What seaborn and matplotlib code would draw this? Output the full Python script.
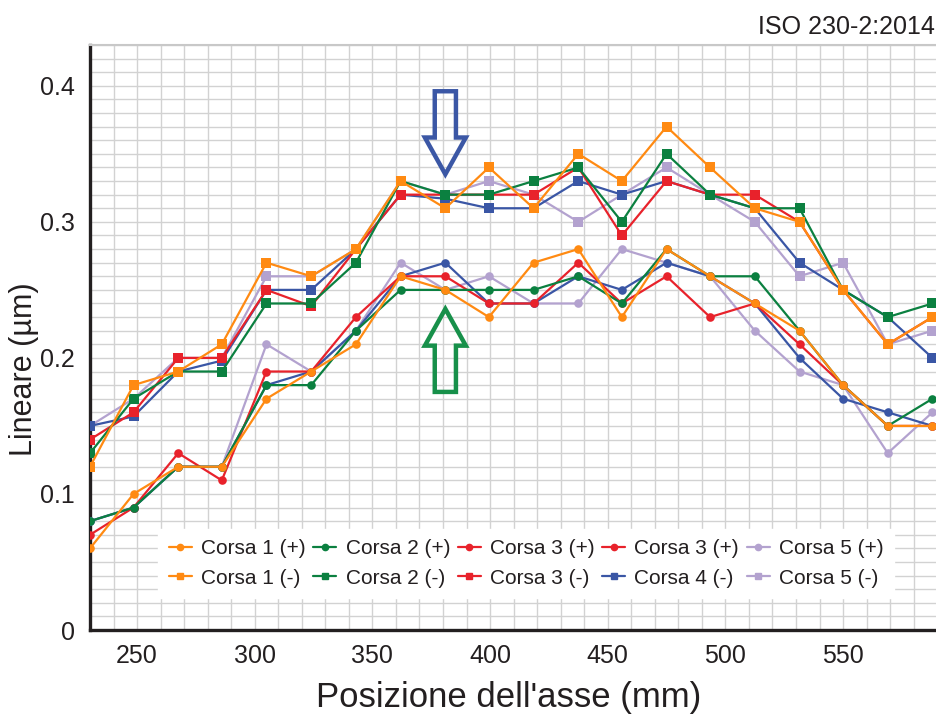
import matplotlib
matplotlib.use("Agg")
import matplotlib.pyplot as plt
import seaborn as sns
import numpy as np
import pandas as pd
from matplotlib.lines import Line2D
from matplotlib.patches import Polygon
from matplotlib.ticker import MultipleLocator, FuncFormatter

# Axis positions (mm)
pos = [230, 248.5, 267.5, 286, 305, 324, 343, 362, 381, 399.5,
       418.5, 437.5, 456, 475, 493.5, 512.5, 531.5, 550, 569, 588]

# Forward runs (+), circles
c1p = [0.06, 0.10, 0.12, 0.12, 0.17, 0.19, 0.21, 0.26, 0.25, 0.23,
       0.27, 0.28, 0.23, 0.28, 0.26, 0.24, 0.22, 0.18, 0.15, 0.15]
c2p = [0.08, 0.09, 0.12, 0.12, 0.18, 0.18, 0.22, 0.25, 0.25, 0.25,
       0.25, 0.26, 0.24, 0.28, 0.26, 0.26, 0.22, 0.18, 0.15, 0.17]
c3p = [0.07, 0.09, 0.13, 0.11, 0.19, 0.19, 0.23, 0.26, 0.26, 0.24,
       0.24, 0.27, 0.24, 0.26, 0.23, 0.24, 0.21, 0.18, 0.15, 0.15]
c4p = [0.08, 0.09, 0.12, 0.12, 0.18, 0.19, 0.22, 0.26, 0.27, 0.24,
       0.24, 0.26, 0.25, 0.27, 0.26, 0.24, 0.20, 0.17, 0.16, 0.15]
c5p = [0.08, 0.09, 0.12, 0.12, 0.21, 0.19, 0.22, 0.27, 0.25, 0.26,
       0.24, 0.24, 0.28, 0.27, 0.26, 0.22, 0.19, 0.18, 0.13, 0.16]

# Backward runs (-), squares
c1m = [0.12, 0.18, 0.19, 0.21, 0.27, 0.26, 0.28, 0.33, 0.31, 0.34,
       0.31, 0.35, 0.33, 0.37, 0.34, 0.31, 0.30, 0.25, 0.21, 0.23]
c2m = [0.13, 0.17, 0.19, 0.19, 0.24, 0.24, 0.27, 0.33, 0.32, 0.32,
       0.33, 0.34, 0.30, 0.35, 0.32, 0.31, 0.31, 0.25, 0.23, 0.24]
c3m = [0.14, 0.16, 0.20, 0.20, 0.25, 0.238, 0.28, 0.32, 0.32, 0.32,
       0.32, 0.34, 0.29, 0.33, 0.32, 0.32, 0.30, 0.25, 0.21, 0.23]
c4m = [0.15, 0.157, 0.19, 0.198, 0.25, 0.25, 0.28, 0.32, 0.317, 0.31,
       0.31, 0.33, 0.32, 0.33, 0.32, 0.31, 0.27, 0.25, 0.23, 0.20]
c5m = [0.15, 0.17, 0.20, 0.20, 0.26, 0.26, 0.28, 0.33, 0.32, 0.33,
       0.32, 0.30, 0.32, 0.34, 0.32, 0.30, 0.26, 0.27, 0.21, 0.22]

orange = '#ff8a12'
green = '#0b8040'
red = '#e8222b'
blue = '#3a56a5'
purple = '#b3a2cf'

# draw order: purple at the bottom, orange on top
series = [
    (c5p, purple, 'o'), (c4p, blue, 'o'), (c3p, red, 'o'),
    (c2p, green, 'o'), (c1p, orange, 'o'),
    (c5m, purple, 's'), (c4m, blue, 's'), (c3m, red, 's'),
    (c2m, green, 's'), (c1m, orange, 's'),
]

# legend as in the original report (column by column for ncol=5)
leg_entries = [
    ("Corsa 1 (+)", orange, 'o'), ("Corsa 1 (-)", orange, 's'),
    ("Corsa 2 (+)", green, 'o'), ("Corsa 2 (-)", green, 's'),
    ("Corsa 3 (+)", red, 'o'), ("Corsa 3 (-)", red, 's'),
    ("Corsa 3 (+)", red, 'o'), ("Corsa 4 (-)", blue, 's'),
    ("Corsa 5 (+)", purple, 'o'), ("Corsa 5 (-)", purple, 's'),
]

sns.set_style("white")
plt.rcParams['font.family'] = ['Liberation Sans', 'DejaVu Sans']
txt = '#231f20'

fig = plt.figure(figsize=(9.36, 7.16), dpi=100)
ax = fig.add_axes([90 / 936, 1 - 630 / 716, 846 / 936, 585 / 716])

for vals, col, mk in series:
    df = pd.DataFrame({'pos': pos, 'val': vals})
    ms = 6.2 if mk == 'o' else 7
    sns.lineplot(data=df, x='pos', y='val', color=col, marker=mk, ms=ms,
                 mec=col, mew=0, lw=1.6, legend=False, ax=ax, zorder=3,
                 clip_on=True)

ax.set_xlim(230, 589.5)
ax.set_ylim(0, 0.43)

ax.xaxis.set_major_locator(MultipleLocator(50))
ax.xaxis.set_minor_locator(MultipleLocator(10))
ax.yaxis.set_major_locator(MultipleLocator(0.05))
ax.yaxis.set_minor_locator(MultipleLocator(0.01))
ax.yaxis.set_major_formatter(FuncFormatter(
    lambda v, p: ('%g' % round(v, 2)) if abs(v * 10 - round(v * 10)) < 1e-6 else ''))

ax.grid(True, which='both', color='#d2d2d2', lw=1.0)
ax.set_axisbelow(True)
ax.tick_params(which='major', direction='out', length=9, width=1.5,
               color=txt, labelsize=18, labelcolor=txt)
ax.tick_params(axis='x', which='major', pad=1)
ax.tick_params(axis='y', which='major', pad=2)
ax.tick_params(which='minor', length=0)

for s in ['left', 'bottom']:
    ax.spines[s].set_color(txt)
    ax.spines[s].set_linewidth(2.4)
ax.spines['right'].set_visible(False)
ax.spines['top'].set_color('#c8c8c8')
ax.spines['top'].set_linewidth(1.5)

ax.set_xlabel("Posizione dell'asse (mm)", fontsize=25, color=txt)
ax.set_ylabel("Lineare (µm)", fontsize=22, color=txt)
ax.xaxis.set_label_coords(0.495, -0.088)
ax.yaxis.set_label_coords(-0.06, 0.446)


def hollow_arrow(x, y_tip, y_tail, col, head_w=8.7, shaft_w=4.5, head_l=0.027):
    d = 1 if y_tail > y_tip else -1
    yb = y_tip + d * head_l
    pts = [(x, y_tip), (x - head_w, yb), (x - shaft_w, yb), (x - shaft_w, y_tail),
           (x + shaft_w, y_tail), (x + shaft_w, yb), (x + head_w, yb)]
    ax.add_patch(Polygon(pts, closed=True, fill=False, edgecolor=col,
                         lw=3.2, joinstyle='miter', zorder=4))


hollow_arrow(pos[8], 0.335, 0.396, '#3b57a5')
hollow_arrow(pos[8], 0.236, 0.175, '#17904a')

handles = [Line2D([], [], color=c, marker=m, ms=4.5 if m == 'o' else 5,
                  mec=c, lw=1.6, label=l) for l, c, m in leg_entries]
leg = ax.legend(handles=handles, ncol=5, loc='lower left',
                bbox_to_anchor=(0.0686, 0.037, 0.894, 0.13), mode='expand',
                fontsize=15, frameon=True, fancybox=False, framealpha=1,
                facecolor='white', edgecolor='white', handlelength=1.1,
                handletextpad=0.45, labelspacing=0.5, borderpad=0.5,
                columnspacing=1.0)
for t in leg.get_texts():
    t.set_color(txt)
leg.set_zorder(5)

fig.text(0.999, 1 - 27 / 716, "ISO 230-2:2014", ha='right', va='center',
         fontsize=18, color=txt)

fig.savefig("out.png", dpi=100)
